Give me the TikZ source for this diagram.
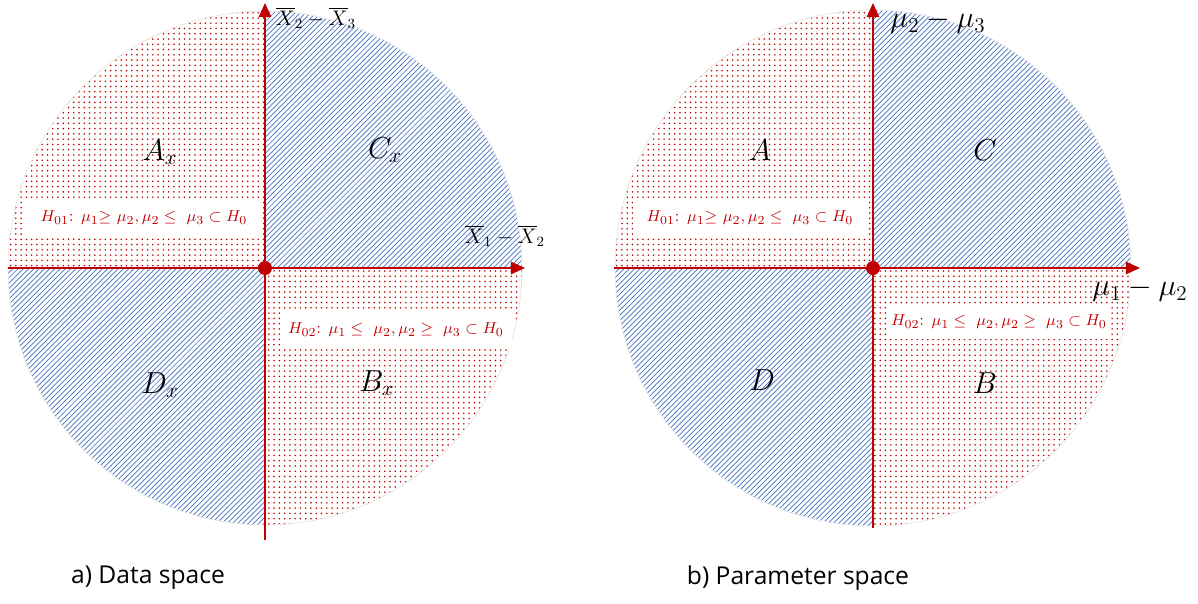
\documentclass[tikz,border=0pt]{standalone}
\usepackage{fontspec}
\setsansfont{Open Sans}
\usetikzlibrary{patterns,arrows.meta}
\definecolor{axisred}{RGB}{192,0,0}
\definecolor{hatchblue}{RGB}{68,114,196}

\begin{document}
\begin{tikzpicture}[x=0.02cm, y=-0.02cm,
	axis/.style={draw=axisred, line width=1.1pt, -{Triangle[length=8pt, width=7pt]}},
	redq/.style={pattern=dots, pattern color=axisred},
	blueq/.style={pattern=north east lines, pattern color=hatchblue},
	hyp/.style={fill=white, text=axisred, inner sep=0pt, font=\fontsize{9.5}{11}\selectfont},
	quad/.style={font=\fontsize{18}{20}\selectfont},
	axlabel/.style={font=\fontsize{12}{14}\selectfont},
	mulabel/.style={font=\fontsize{17}{19}\selectfont},
	caption/.style={font=\sffamily\fontsize{14}{16}\selectfont},
	origin/.style={circle, fill=axisred, inner sep=0pt, minimum size=0.28cm}]
	\useasboundingbox (0,0) rectangle (1198,603);
	% a) data space
	\coordinate (o1) at (265,268);
	\begin{scope}
		\clip (o1) circle (5.14cm);
		\fill[redq] (o1) rectangle (0,0);
		\fill[redq] (o1) rectangle (540,540);
		\fill[blueq] (o1) rectangle (540,0);
		\fill[blueq] (o1) rectangle (0,540);
	\end{scope}
	\draw[gray!20] (o1) circle (5.14cm);
	\coordinate (xa1) at (8,268);
	\coordinate (xb1) at (525,268);
	\coordinate (ya1) at (265,540);
	\coordinate (yb1) at (265,3);
	\draw[axis] (xa1) -- (xb1);
	\draw[axis] (ya1) -- (yb1);
	\node[origin] (dot1) at (o1) {};
	\node[quad] (ax) at (160,152) {$A_x$};
	\node[quad] (cx) at (385,150) {$C_x$};
	\node[quad] (dx) at (160,385) {$D_x$};
	\node[quad] (bx) at (377,383) {$B_x$};
	\node[hyp, minimum width=4.76cm, minimum height=0.7cm] (h01a) at (144,218)
		{$H_{01}$: $\mu_1{\geq}\ \mu_2,\mu_2\leq\ \mu_3\subset H_0$};
	\node[hyp, minimum width=4.66cm, minimum height=0.72cm] (h02a) at (396,330)
		{$H_{02}$: $\mu_1\leq\ \mu_2,\mu_2\geq\ \mu_3\subset H_0$};
	\node[axlabel] (xlab1) at (316,18) {$\overline{X}_2-\overline{X}_3$};
	\node[axlabel] (xlab2) at (505,236) {$\overline{X}_1-\overline{X}_2$};
	\node[caption] (capa) at (148,578) {a) Data space};
	% b) parameter space
	\coordinate (o2) at (873,268);
	\begin{scope}
		\clip (o2) circle (5.16cm);
		\fill[redq] (o2) rectangle (600,0);
		\fill[redq] (o2) rectangle (1150,540);
		\fill[blueq] (o2) rectangle (1150,0);
		\fill[blueq] (o2) rectangle (600,540);
	\end{scope}
	\draw[gray!20] (o2) circle (5.16cm);
	\coordinate (xa2) at (614,268);
	\coordinate (xb2) at (1140,268);
	\coordinate (ya2) at (873,528);
	\coordinate (yb2) at (873,3);
	\draw[axis] (xa2) -- (xb2);
	\draw[axis] (ya2) -- (yb2);
	\node[origin] (dot2) at (o2) {};
	\node[quad] (a) at (760,150) {$A$};
	\node[quad] (c) at (985,150) {$C$};
	\node[quad] (d) at (762,380) {$D$};
	\node[quad] (b) at (985,383) {$B$};
	\node[hyp, minimum width=4.7cm, minimum height=0.7cm] (h01b) at (750,218)
		{$H_{01}$: $\mu_1{\geq}\ \mu_2,\mu_2\leq\ \mu_3\subset H_0$};
	\node[hyp, minimum width=4.36cm, minimum height=0.66cm] (h02b) at (999,322)
		{$H_{02}$: $\mu_1\leq\ \mu_2,\mu_2\geq\ \mu_3\subset H_0$};
	\node[mulabel] (mulab1) at (938,22) {$\mu_2-\mu_3$};
	\node[mulabel] (mulab2) at (1140,290) {$\mu_1-\mu_2$};
	\node[caption] (capb) at (798,578) {b) Parameter space};
\end{tikzpicture}
\end{document}
